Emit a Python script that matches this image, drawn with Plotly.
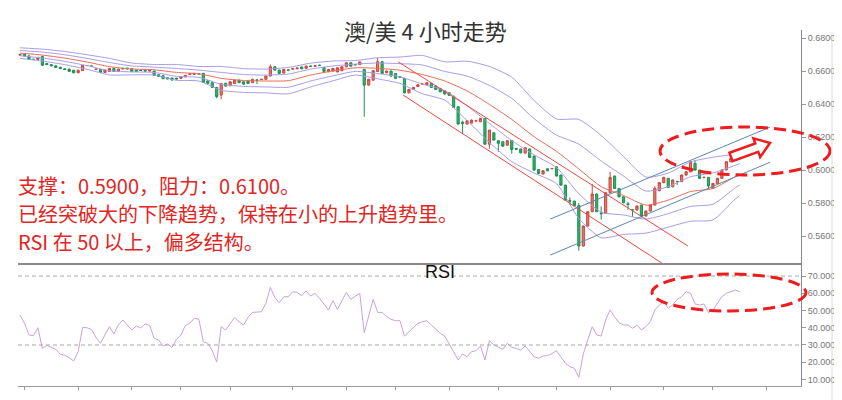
import plotly.graph_objects as go

# ---------------- data ----------------
title_text = "澳/美 4 小时走势"
note_lines = ["支撑：0.5900，阻力：0.6100。",
              "已经突破大的下降趋势，保持在小的上升趋势里。",
              "RSI 在 50 以上，偏多结构。"]

opens = [.6697,.6701,.6692,.6672,.6671,.6688,.6646,.6639,.6632,.6623,
         .6614,.6612,.6605,.6590,.6603,.6633,.6631,.6610,.6610,.6592,
         .6598,.6616,.6597,.6616,.6618,.6614,.6606,.6606,.6604,.6600,
         .6600,.6578,.6572,.6560,.6558,.6557,.6556,.6565,.6580,.6580,
         .6585,.6586,.6541,.6530,.6501,.6455,.6526,.6515,.6525,.6545,
         .6535,.6540,.6530,.6546,.6549,.6550,.6570,.6626,.6606,.6588,
         .6607,.6612,.6614,.6625,.6617,.6631,.6629,.6636,.6622,.6596,
         .6600,.6595,.6602,.6626,.6650,.6640,.6639,.6610,.6515,.6545,
         .6597,.6657,.6590,.6600,.6585,.6565,.6556,.6468,.6489,.6506,
         .6520,.6517,.6525,.6509,.6495,.6481,.6469,.6448,.6384,.6290,
         .6279,.6285,.6298,.6293,.6313,.6157,.6226,.6178,.6172,.6151,
         .6180,.6131,.6128,.6103,.6128,.6085,.6004,.5976,.6008,.6008,
         .6020,.5970,.5909,.5815,.5812,.5785,.5540,.5661,.5748,.5855,
         .5740,.5738,.5863,.5964,.5889,.5838,.5796,.5760,.5758,.5788,
         .5722,.5752,.5788,.5875,.5924,.5950,.5899,.5932,.5930,.5970,
         .5990,.6041,.6000,.5955,.5956,.5889,.5919,.5950,.6001,.6051,
         .6073,.6078]
highs = [.6703,.6703,.6694,.6675,.6686,.6693,.6648,.6642,.6634,.6626,
         .6617,.6614,.6607,.6608,.6637,.6636,.6632,.6615,.6612,.6609,
         .6619,.6618,.6614,.6619,.6620,.6616,.6608,.6608,.6606,.6607,
         .6602,.6580,.6574,.6562,.6560,.6559,.6567,.6576,.6584,.6588,
         .6587,.6590,.6543,.6532,.6503,.6528,.6530,.6538,.6548,.6548,
         .6537,.6542,.6553,.6548,.6552,.6573,.6640,.6628,.6608,.6613,
         .6609,.6618,.6620,.6627,.6633,.6633,.6635,.6638,.6624,.6613,
         .6619,.6623,.6629,.6653,.6653,.6642,.6658,.6612,.6553,.6605,
         .6680,.6660,.6603,.6603,.6588,.6567,.6558,.6492,.6504,.6520,
         .6524,.6532,.6527,.6511,.6497,.6483,.6471,.6450,.6386,.6300,
         .6302,.6306,.6301,.6316,.6315,.6245,.6228,.6180,.6174,.6181,
         .6182,.6134,.6130,.6138,.6130,.6087,.6006,.5999,.6010,.6013,
         .6022,.5972,.5911,.5835,.5814,.5800,.5664,.5751,.5915,.5858,
         .5780,.5866,.5989,.5966,.5891,.5840,.5808,.5762,.5785,.5790,
         .5755,.5791,.5903,.5927,.5959,.5952,.5943,.5934,.5973,.5993,
         .6054,.6061,.6002,.5960,.5958,.5922,.5953,.6004,.6054,.6074,
         .6077,.6080]
lows = [.6694,.6688,.6670,.6667,.6669,.6633,.6636,.6629,.6619,.6612,
        .6607,.6595,.6587,.6588,.6600,.6632,.6628,.6607,.6589,.6590,
        .6596,.6595,.6595,.6612,.6611,.6594,.6595,.6601,.6598,.6598,
        .6571,.6564,.6551,.6550,.6543,.6549,.6554,.6563,.6578,.6578,
        .6580,.6528,.6523,.6498,.6435,.6430,.6506,.6506,.6522,.6527,
        .6518,.6522,.6528,.6521,.6545,.6548,.6568,.6603,.6583,.6586,
        .6604,.6610,.6612,.6611,.6615,.6626,.6627,.6630,.6595,.6594,
        .6598,.6593,.6600,.6624,.6627,.6635,.6637,.6323,.6512,.6543,
        .6595,.6583,.6588,.6567,.6553,.6558,.6465,.6465,.6487,.6504,
        .6518,.6515,.6498,.6486,.6472,.6458,.6450,.6376,.6275,.6218,
        .6277,.6283,.6296,.6291,.6154,.6130,.6179,.6111,.6142,.6149,
        .6100,.6124,.6102,.6101,.6074,.5997,.5977,.5974,.5993,.6006,
        .5961,.5906,.5815,.5790,.5782,.5512,.5537,.5658,.5745,.5745,
        .5700,.5735,.5860,.5886,.5835,.5799,.5760,.5716,.5755,.5712,
        .5719,.5749,.5785,.5872,.5921,.5892,.5896,.5910,.5928,.5967,
        .5987,.5997,.5947,.5950,.5885,.5886,.5916,.5947,.5998,.6048,
        .6071,.6068]
closes = [.6701,.6692,.6673,.6670,.6683,.6636,.6640,.6632,.6622,.6615,
          .6610,.6598,.6590,.6605,.6634,.6634,.6630,.6612,.6592,.6606,
          .6616,.6598,.6612,.6614,.6614,.6597,.6598,.6604,.6600,.6604,
          .6574,.6567,.6554,.6553,.6546,.6552,.6565,.6574,.6582,.6586,
          .6583,.6531,.6526,.6501,.6445,.6525,.6509,.6535,.6545,.6530,
          .6521,.6525,.6550,.6545,.6550,.6570,.6626,.6606,.6586,.6610,
          .6606,.6615,.6618,.6614,.6630,.6628,.6632,.6634,.6598,.6610,
          .6616,.6620,.6626,.6650,.6630,.6638,.6655,.6515,.6550,.6602,
          .6657,.6586,.6600,.6570,.6556,.6562,.6468,.6489,.6501,.6517,
          .6521,.6529,.6501,.6489,.6475,.6461,.6453,.6380,.6279,.6282,
          .6299,.6303,.6299,.6313,.6157,.6242,.6182,.6162,.6145,.6178,
          .6125,.6127,.6105,.6135,.6077,.6000,.5980,.5996,.5996,.6010,
          .5964,.5909,.5818,.5812,.5785,.5540,.5661,.5748,.5855,.5748,
          .5736,.5863,.5956,.5889,.5838,.5802,.5792,.5758,.5782,.5722,
          .5752,.5788,.5889,.5924,.5956,.5895,.5940,.5930,.5970,.5990,
          .6051,.6000,.5950,.5956,.5904,.5919,.5950,.6001,.6051,.6071,
          .6075,.6070]

rsi = [47.4,42.6,35.8,35.4,40.0,28.0,29.8,28.6,27.5,24.6,
       24.0,22.7,20.7,26.1,40.2,40.0,39.0,34.4,31.0,35.8,
       40.6,36.4,41.6,44.5,41.6,38.7,41.0,39.9,42.2,41.4,
       33.9,32.9,29.4,30.6,28.6,33.3,35.8,41.4,42.6,45.5,
       44.9,31.9,31.0,26.7,20.1,40.6,38.7,42.6,46.0,43.5,
       41.6,46.0,48.9,49.1,49.3,54.2,63.4,57.6,54.5,58.0,
       58.0,60.9,60.5,58.6,61.3,58.4,60.0,57.1,53.8,50.3,
       55.7,50.7,55.7,60.5,56.5,58.4,60.0,37.1,46.4,56.5,
       48.9,48.9,46.4,44.9,44.1,44.1,35.2,37.7,40.6,42.6,
       43.5,44.1,41.6,39.1,36.8,35.2,31.0,26.0,21.3,24.8,
       23.2,26.1,26.7,29.4,21.3,32.5,30.0,28.6,27.5,31.0,
       28.6,28.0,27.1,29.4,26.1,23.2,22.3,23.6,23.8,25.0,
       26.7,23.2,19.4,17.4,16.5,11.3,24.8,32.9,40.6,35.8,
       35.2,44.5,50.3,46.4,42.9,41.6,41.6,39.7,41.6,38.7,
       40.6,43.5,50.3,53.2,55.1,51.3,53.2,56.5,58.0,60.9,
       60.0,53.8,53.2,53.8,48.7,50.3,54.2,58.0,60.0,60.9,
       61.9,60.9]

# Bollinger (20) middle line and standard deviation, read every 5 bars
band_bar = [0,5,10,15,20,25,30,35,40,45,50,55,60,65,70,75,80,85,90,95,
            100,105,110,115,120,125,130,135,140,145,150,155,160,161]
ma20 = [.6709,.6697,.6679,.6655,.6627,.6613,.6608,.6592,.6584,.6556,
        .6543,.6540,.6542,.6576,.6601,.6620,.6617,.6605,.6579,.6540,
        .6480,.6398,.6307,.6202,.6114,.6007,.5900,.5846,.5788,.5818,
        .5870,.5888,.5961,.5975]
sd20 = [.0016,.0018,.0020,.0022,.0025,.0018,.0016,.0024,.0022,.0036,
        .0036,.0036,.0040,.0036,.0030,.0022,.0032,.0040,.0058,.0058,
        .0090,.0115,.0128,.0110,.0098,.0150,.0155,.0118,.0085,.0082,
        .0090,.0095,.0068,.0065]

# hand-drawn trend lines (bar, price) end points
down_upper_bar = [84.6, 149.4]
down_upper_px = [.6656, .5540]
down_lower_bar = [85.7, 143.6]
down_lower_px = [.6455, .5436]
up_upper_bar = [118.6, 167.8]
up_upper_px = [.5703, .6261]
up_lower_bar = [118.6, 167.8]
up_lower_px = [.5485, .6048]

price_ticks = [0.56, 0.58, 0.60, 0.62, 0.64, 0.66, 0.68]
rsi_ticks = [10, 20, 30, 40, 50, 60, 70]
rsi_levels = [70, 30]
x_tick_bars = [1, 13, 25, 36, 47, 61, 73, 84, 96, 107, 120, 132, 144, 155, 167]

# ---------------- layout geometry (page pixels) ----------------
W_PAGE, H_PAGE = 842, 400
OFF = 8            # default body margin of the html page
PL, PR = 18, 801
PT, MAIN_B, RSI_T, PB = 30, 263, 264, 386


def fx(x):
    return (x - PL) / (PR - PL)


def fy(y):
    return (PB - y) / (PB - PT)


bars = list(range(len(closes)))

fig = go.Figure()

# Bollinger bands
purple = "#a79ce8"
for k in (2, 1, -1, -2):
    fig.add_trace(go.Scatter(
        x=band_bar, y=[m + k * s for m, s in zip(ma20, sd20)],
        mode="lines", line=dict(color=purple, width=1, shape="spline", smoothing=0.6),
        hoverinfo="skip", xaxis="x", yaxis="y"))
fig.add_trace(go.Scatter(
    x=band_bar, y=ma20, mode="lines",
    line=dict(color="#ea6a55", width=1, shape="spline", smoothing=0.6),
    hoverinfo="skip", xaxis="x", yaxis="y"))

# trend lines
for bx, py_, col in ((down_upper_bar, down_upper_px, "#ec4a40"),
                     (down_lower_bar, down_lower_px, "#ec4a40"),
                     (up_upper_bar, up_upper_px, "#5a88b0"),
                     (up_lower_bar, up_lower_px, "#5a88b0")):
    fig.add_trace(go.Scatter(x=bx, y=py_, mode="lines",
                             line=dict(color=col, width=1),
                             hoverinfo="skip", xaxis="x", yaxis="y"))

# candles
fig.add_trace(go.Candlestick(
    x=bars, open=opens, high=highs, low=lows, close=closes,
    increasing=dict(line=dict(color="#c8463c", width=1), fillcolor="#e8766c"),
    decreasing=dict(line=dict(color="#1f8f50", width=1), fillcolor="#2fb36b"),
    whiskerwidth=0, xaxis="x", yaxis="y", hoverinfo="skip"))

# RSI
fig.add_trace(go.Scatter(x=bars, y=rsi, mode="lines",
                         line=dict(color="#c9a3d6", width=1),
                         hoverinfo="skip", xaxis="x2", yaxis="y2"))
xr = [-0.45, 174.7]
for lv in rsi_levels:
    fig.add_trace(go.Scatter(x=xr, y=[lv, lv], mode="lines",
                             line=dict(color="#a8a8a8", width=1, dash="4px,3px"),
                             hoverinfo="skip", xaxis="x2", yaxis="y2"))

axis_font = dict(family="Liberation Sans, Arial", size=9, color="#777")
fig.update_layout(
    width=W_PAGE - OFF, height=H_PAGE - OFF,
    margin=dict(l=PL - OFF, r=W_PAGE - PR, t=PT - OFF, b=H_PAGE - PB, autoexpand=False),
    paper_bgcolor="white", plot_bgcolor="white",
    showlegend=False,
    xaxis=dict(domain=[0, 1], range=xr, anchor="y", showticklabels=False,
               showgrid=False, zeroline=False, showline=True,
               linecolor="#8a8a8a", linewidth=2, ticks="",
               rangeslider=dict(visible=False)),
    yaxis=dict(domain=[fy(MAIN_B), 1], range=[0.5437, 0.6849], side="right",
               anchor="x", tickvals=price_ticks, tickformat=".4f",
               showgrid=False, zeroline=False, showline=True,
               linecolor="#8a8a8a", linewidth=1, ticks="outside", ticklen=4,
               tickcolor="#999", tickfont=axis_font),
    xaxis2=dict(domain=[0, 1], range=xr, anchor="y2", matches="x",
                showticklabels=False, showgrid=False, zeroline=False,
                showline=True, linecolor="#9a9a9a", linewidth=1,
                ticks="outside", ticklen=3, tickcolor="#999",
                tickvals=x_tick_bars),
    yaxis2=dict(domain=[0, fy(RSI_T)], range=[6.2, 77.0], side="right",
                anchor="x2", tickvals=rsi_ticks, tickformat=".4f",
                showgrid=False, zeroline=False, showline=True,
                linecolor="#8a8a8a", linewidth=1, ticks="outside", ticklen=4,
                tickcolor="#999", tickfont=axis_font),
)

# annotations
anns = [dict(text=title_text, x=fx(426), y=fy(30), xref="paper", yref="paper",
             xanchor="center", yanchor="middle", showarrow=False,
             font=dict(family="Noto Sans CJK SC", size=22, color="#333"))]
for t, yy in zip(note_lines, (185, 213, 241)):
    anns.append(dict(text=t, x=fx(16), y=fy(yy), xref="paper", yref="paper",
                     xanchor="left", yanchor="middle", showarrow=False,
                     font=dict(family="Noto Sans CJK SC", size=20, color="#e2261f")))
anns.append(dict(text="RSI", x=fx(440), y=fy(272), xref="paper", yref="paper",
                 xanchor="center", yanchor="middle", showarrow=False,
                 font=dict(family="Liberation Sans, Arial", size=18, color="#111")))
fig.update_layout(annotations=anns)

# shapes: ellipses, arrow, border
red = "#ee1c1c"
shapes = [
    dict(type="circle", xref="paper", yref="paper", x0=fx(660), x1=fx(830),
         y0=fy(175), y1=fy(127), line=dict(color=red, width=3, dash="12px,6px")),
    dict(type="circle", xref="paper", yref="paper", x0=fx(652), x1=fx(806),
         y0=fy(311), y1=fy(274), line=dict(color=red, width=3, dash="12px,6px")),
    dict(type="line", xref="paper", yref="paper", x0=fx(832), x1=fx(832),
         y0=fy(32), y1=fy(400), line=dict(color="#dcdcdc", width=1)),
]
arrow_pts = [(729.5, 152.8), (755.3, 143.5), (753.4, 138.3), (770.0, 143.0),
             (760.2, 157.1), (758.3, 151.9), (732.5, 161.2)]
path = "M " + " L ".join(f"{fx(a):.5f},{fy(b):.5f}" for a, b in arrow_pts) + " Z"
shapes.append(dict(type="path", xref="paper", yref="paper", path=path,
                   fillcolor="white", line=dict(color=red, width=2.5)))
fig.update_layout(shapes=shapes)

fig.write_html("out.html")
